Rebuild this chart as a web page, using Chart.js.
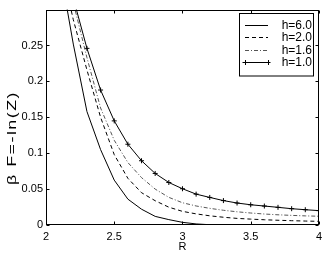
<!DOCTYPE html>
<html>
<head>
<meta charset="utf-8">
<script src="https://cdn.jsdelivr.net/npm/chart.js@4/dist/chart.umd.min.js"></script>
<style>
  html, body { margin: 0; padding: 0; background: #fff; }
</style>
</head>
<body>
<canvas id="betaF" width="327" height="254"></canvas>
<script>
// R values and beta F = -ln(Z) for each h
var R = [2.0, 2.1, 2.2, 2.3, 2.4, 2.5, 2.6, 2.7, 2.8, 2.9, 3.0, 3.1, 3.2, 3.3, 3.4, 3.5, 3.6, 3.7, 3.8, 3.9, 4.0];
var h60 = [0.50, 0.36, 0.252, 0.158, 0.105, 0.0625, 0.036, 0.022, 0.012, 0.0075, 0.0037, 0.0015, 0.0004, 0.0, -0.0005, -0.0008, -0.001, -0.0012, -0.0013, -0.0014, -0.0015];
var h20 = [0.49, 0.37, 0.286, 0.216, 0.150, 0.098, 0.065, 0.045, 0.0338, 0.0248, 0.019, 0.0155, 0.0128, 0.0108, 0.0092, 0.0082, 0.0073, 0.0066, 0.006, 0.0055, 0.0051];
var h16 = [0.52, 0.40, 0.31, 0.233, 0.163, 0.118, 0.087, 0.066, 0.050, 0.0385, 0.031, 0.0265, 0.0232, 0.0205, 0.0184, 0.0167, 0.0153, 0.0142, 0.0134, 0.0127, 0.0122];
var h10 = [0.54, 0.41, 0.316, 0.246, 0.188, 0.145, 0.1125, 0.0895, 0.0718, 0.0592, 0.0505, 0.043, 0.0384, 0.034, 0.0306, 0.0282, 0.0264, 0.0246, 0.0227, 0.0213, 0.020];
var seriesNames = ['h=6.0', 'h=2.0', 'h=1.6', 'h=1.0'];
var xTicks = [2, 2.5, 3, 3.5, 4];
var yTicks = [0, 0.05, 0.1, 0.15, 0.2, 0.25];

function pts(ys) {
  return R.map(function (r, i) { return { x: r, y: ys[i] }; });
}

var FONT = 'Arial, "Liberation Sans", Helvetica, sans-serif';

// box round the plot, ticks pointing inwards, legend and y label
var matlabAxes = {
  id: 'matlabAxes',
  afterDatasetsDraw: function (chart) {
    var ctx = chart.ctx;
    var a = chart.chartArea;
    var xs = chart.scales.x, ys = chart.scales.y;
    var L = Math.round(a.left) + 0.5, Rt = Math.round(a.right) - 0.5;
    var T = Math.round(a.top) + 0.5, B = Math.round(a.bottom) - 0.5;
    ctx.save();
    ctx.strokeStyle = '#000';
    ctx.lineWidth = 1;
    ctx.setLineDash([]);
    ctx.strokeRect(L, T, Rt - L, B - T);
    ctx.beginPath();
    xTicks.forEach(function (v) {
      var px = Math.round(xs.getPixelForValue(v)) + 0.5;
      ctx.moveTo(px, B); ctx.lineTo(px, B - 3);
      ctx.moveTo(px, T); ctx.lineTo(px, T + 3);
    });
    yTicks.forEach(function (v) {
      var py = Math.round(ys.getPixelForValue(v)) + 0.5;
      ctx.moveTo(L, py); ctx.lineTo(L + 3, py);
      ctx.moveTo(Rt, py); ctx.lineTo(Rt - 3, py);
    });
    ctx.stroke();

    // legend
    var bx = 239.5, by = 13.5, bw = 74, bh = 62.5;
    ctx.fillStyle = '#fff';
    ctx.fillRect(bx, by, bw, bh);
    ctx.strokeRect(bx, by, bw, bh);
    ctx.font = '12px ' + FONT;
    ctx.textAlign = 'right';
    ctx.textBaseline = 'middle';
    chart.data.datasets.forEach(function (ds, i) {
      var y = Math.round(25 + 12.4 * i) + 0.5;
      ctx.strokeStyle = ds.borderColor;
      ctx.lineWidth = ds.borderWidth;
      ctx.setLineDash(ds.borderDash || []);
      ctx.beginPath();
      ctx.moveTo(245, y); ctx.lineTo(268, y);
      ctx.stroke();
      ctx.setLineDash([]);
      if (ds.pointRadius > 0) {
        [245, 268].forEach(function (px) {
          ctx.beginPath();
          ctx.moveTo(px - 2.5, y); ctx.lineTo(px + 2.5, y);
          ctx.moveTo(px + 0.5, y - 2.5); ctx.lineTo(px + 0.5, y + 2.5);
          ctx.stroke();
        });
      }
      ctx.fillStyle = '#000';
      ctx.fillText(ds.label, 312, y);
    });

    // y label, drawn long like the original
    ctx.font = '12px ' + FONT;
    ctx.letterSpacing = '1px';
    var lbl = '\u03B2 F=-ln(Z)';
    var stretch = 94 / ctx.measureText(lbl).width;
    ctx.translate(13, 138);
    ctx.rotate(-Math.PI / 2);
    ctx.scale(stretch, 1);
    ctx.textAlign = 'center';
    ctx.fillText(lbl, 0, 0);
    ctx.restore();
  }
};

var ctx = document.getElementById('betaF').getContext('2d');
var chart = new Chart(ctx, {
  type: 'line',
  data: {
    datasets: [{
      label: seriesNames[0],
      data: pts(h60),
      borderColor: '#000',
      borderWidth: 1,
      pointRadius: 0
    }, {
      label: seriesNames[1],
      data: pts(h20),
      borderColor: '#000',
      borderWidth: 1,
      borderDash: [4, 3],
      pointRadius: 0
    }, {
      label: seriesNames[2],
      data: pts(h16),
      borderColor: '#555',
      borderWidth: 1,
      borderDash: [4, 2, 1, 2],
      pointRadius: 0
    }, {
      label: seriesNames[3],
      data: pts(h10),
      borderColor: '#000',
      borderWidth: 1,
      pointStyle: 'cross',
      pointRadius: 2.5,
      pointBorderWidth: 1,
      pointBorderColor: '#000'
    }]
  },
  options: {
    responsive: false,
    animation: false,
    devicePixelRatio: 1,
    layout: { padding: { left: 0, right: 7, top: 8, bottom: 0 } },
    plugins: { legend: { display: false }, tooltip: { enabled: false } },
    elements: { line: { tension: 0, fill: false } },
    scales: {
      x: {
        type: 'linear',
        min: 2,
        max: 4,
        afterFit: function (s) { s.height = 29; },
        afterBuildTicks: function (s) { s.ticks = xTicks.map(function (v) { return { value: v }; }); },
        grid: { display: false, drawTicks: false },
        border: { display: false },
        ticks: {
          padding: 5,
          color: '#000',
          font: { family: FONT, size: 11 },
          maxRotation: 0,
          callback: function (v) { return String(v); }
        },
        title: {
          display: true,
          text: 'R',
          color: '#000',
          font: { family: FONT, size: 11 },
          padding: { top: 0, bottom: 0 }
        }
      },
      y: {
        type: 'linear',
        min: 0,
        max: 0.3,
        afterFit: function (s) { s.width = 46; },
        afterBuildTicks: function (s) { s.ticks = yTicks.map(function (v) { return { value: v }; }); },
        grid: { display: false, drawTicks: false },
        border: { display: false },
        ticks: {
          padding: 3,
          color: '#000',
          font: { family: FONT, size: 11 },
          callback: function (v) { return String(+v.toFixed(2)); }
        }
      }
    }
  },
  plugins: [matlabAxes]
});
</script>
</body>
</html>
